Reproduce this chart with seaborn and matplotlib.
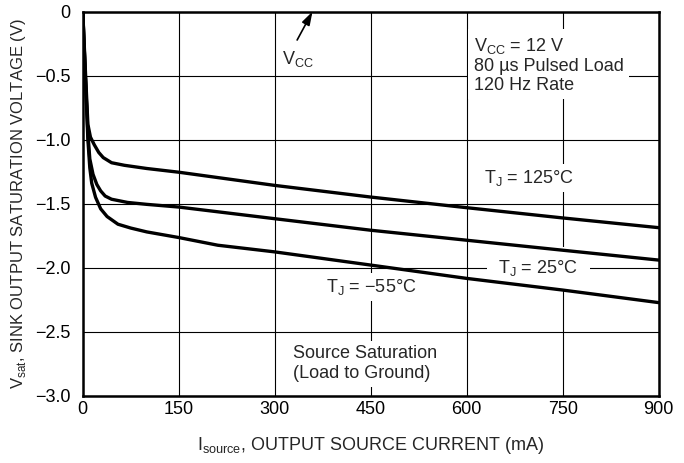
import seaborn as sns
import matplotlib.pyplot as plt
import pandas as pd

# Datos (corriente en mA, tension en V)
i_125 = [0, 4, 8, 12, 18, 25, 32, 45, 65, 100, 150, 300, 450, 600, 750, 900]
v_125 = [0, -0.45, -0.88, -0.98, -1.04, -1.10, -1.14, -1.18, -1.20, -1.225, -1.254, -1.357, -1.448, -1.531, -1.611, -1.687]

i_25 = [0, 4, 8, 11, 16, 22, 28, 35, 45, 70, 100, 150, 300, 450, 600, 750, 900]
v_25 = [0, -0.5, -0.95, -1.15, -1.27, -1.35, -1.40, -1.44, -1.465, -1.49, -1.505, -1.526, -1.617, -1.707, -1.785, -1.863, -1.94]

i_m55 = [0, 4, 8, 11, 14, 20, 28, 38, 55, 75, 100, 150, 211, 300, 450, 600, 750, 900]
v_m55 = [0, -0.5, -1.0, -1.22, -1.34, -1.45, -1.54, -1.60, -1.66, -1.69, -1.72, -1.764, -1.824, -1.876, -1.979, -2.083, -2.174, -2.272]

x_ticks = [0, 150, 300, 450, 600, 750, 900]
y_ticks = [-3.0, -2.5, -2.0, -1.5, -1.0, -0.5, 0]
y_tick_labels = ["\u22123.0", "\u22122.5", "\u22122.0", "\u22121.5", "\u22121.0", "\u22120.5", "0"]

df = pd.concat([
    pd.DataFrame({"i": i_125, "v": v_125, "tj": "125"}),
    pd.DataFrame({"i": i_25, "v": v_25, "tj": "25"}),
    pd.DataFrame({"i": i_m55, "v": v_m55, "tj": "-55"}),
])

sns.set_style("white")
plt.rcParams["font.family"] = ["Liberation Sans", "DejaVu Sans"]

fig, ax = plt.subplots(figsize=(6.84, 4.63), dpi=100)
fig.subplots_adjust(left=0.121, right=0.963, top=0.975, bottom=0.145)

sns.lineplot(data=df, x="i", y="v", hue="tj", palette=["black"] * 3, estimator=None,
             sort=False, linewidth=2.4, legend=False, ax=ax, zorder=4)

ax.set_xlim(0, 900)
ax.set_ylim(-3, 0)
ax.set_xticks(x_ticks)
ax.set_yticks(y_ticks)
ax.set_yticklabels(y_tick_labels)
ax.grid(True, color="black", linewidth=0.8)
ax.set_axisbelow(True)
for s in ax.spines.values():
    s.set_color("black")
    s.set_linewidth(1.8)
ax.tick_params(length=0, labelsize=13, colors="black")
ax.tick_params(axis="x", pad=4)
ax.tick_params(axis="y", pad=9)

ax.set_xlabel(r"I$_{\mathregular{source}}$, OUTPUT SOURCE CURRENT (mA)", fontsize=13, labelpad=12)
ax.set_ylabel(r"V$_{\mathregular{sat}}$, SINK OUTPUT SATURATION VOLTAGE (V)", fontsize=12, labelpad=5)

caja = dict(facecolor="white", edgecolor="none", pad=3)
ax.text(312, -0.37, r"V$_{\mathregular{CC}}$", fontsize=13, va="center", ha="left")
ax.annotate("", xy=(359, 0), xytext=(335, -0.222),
            arrowprops=dict(arrowstyle="-|>,head_length=0.8,head_width=0.25", color="black",
                            lw=1.2, shrinkA=0, shrinkB=0))
ax.text(611, -0.19, "V$_{\\mathregular{CC}}$ = 12 V\n80 \u00b5s Pulsed Load\n120 Hz Rate",
        fontsize=13, va="top", ha="left", linespacing=1.15,
        bbox=dict(facecolor="white", edgecolor="none", pad=4))
ax.text(697, -1.30, "T$_{\\mathregular{J}}$ = 125\u00b0C", fontsize=13, ha="center", va="center", bbox=caja)
ax.text(712, -2.0, "T$_{\\mathregular{J}}$ = 25\u00b0C", fontsize=13, ha="center", va="center",
        bbox=dict(facecolor="white", edgecolor="none", pad=8))
ax.text(451, -2.15, "T$_{\\mathregular{J}}$ = \u221255\u00b0C", fontsize=13, ha="center", va="center", bbox=caja)
ax.text(328, -2.75, "Source Saturation\n(Load to Ground)", fontsize=13, ha="left", va="center",
        linespacing=1.25, bbox=caja)

plt.savefig("out.png", dpi=100)
